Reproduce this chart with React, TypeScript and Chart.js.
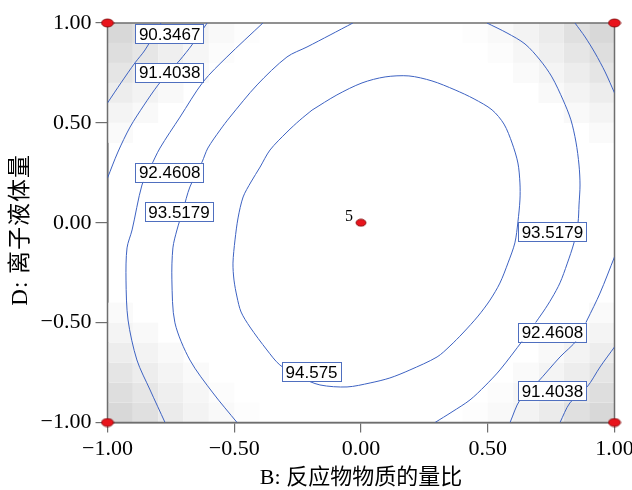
import React, { useEffect, useRef } from 'react';
import { Chart, registerables } from 'chart.js';

Chart.register(...registerables);

// ---------- data ----------
const xTickValues = [-1, -0.5, 0, 0.5, 1];
const xTickLabels = ['\u22121.00', '\u22120.50', '0.00', '0.50', '1.00'];
const yTickValues = [-1, -0.5, 0, 0.5, 1];
const yTickLabels = ['\u22121.00', '\u22120.50', '0.00', '0.50', '1.00'];
const xTitle = 'B: 反应物物质的量比';
const yTitle = 'D: 离子液体量';

// contour polylines, [B, D]
const c90_3467_topLeft = [
  [-1.0, 0.6], [-0.947, 0.7], [-0.892, 0.8], [-0.852, 0.865], [-0.789, 1.0],
];
const c91_4038_topLeft = [
  [-1.0, 0.224], [-0.959, 0.354], [-0.911, 0.479], [-0.856, 0.589], [-0.801, 0.689],
  [-0.757, 0.755], [-0.714, 0.815], [-0.667, 0.89], [-0.607, 1.0],
];
const c91_4038_bottomRight = [
  [1.0, -0.622], [0.943, -0.722], [0.892, -0.822], [0.824, -0.902], [0.785, -1.0],
];
const c92_4608_left = [
  [-0.773, -1.0], [-0.832, -0.837], [-0.884, -0.687], [-0.919, -0.487], [-0.927, -0.287],
  [-0.923, -0.126], [-0.903, -0.036], [-0.864, 0.189], [-0.832, 0.274], [-0.793, 0.374],
  [-0.714, 0.529], [-0.623, 0.705], [-0.529, 0.83], [-0.387, 1.0],
];
const c92_4608_topRight = [
  [0.844, 1.0], [0.884, 0.93], [0.923, 0.85], [0.963, 0.755], [1.0, 0.65],
];
const c92_4608_right = [
  [1.0, -0.171], [0.943, -0.352], [0.892, -0.487], [0.852, -0.587], [0.785, -0.672],
  [0.694, -0.802], [0.627, -0.887], [0.588, -1.0],
];
const c93_5179_left = [
  [-0.489, -1.0], [-0.584, -0.852], [-0.675, -0.687], [-0.734, -0.501], [-0.746, -0.286],
  [-0.742, -0.126], [-0.726, -0.036], [-0.702, 0.064], [-0.675, 0.179], [-0.627, 0.304],
  [-0.604, 0.374], [-0.556, 0.464], [-0.517, 0.529], [-0.41, 0.69], [-0.292, 0.83],
  [-0.213, 0.88], [-0.122, 0.94], [-0.032, 1.0],
];
const c93_5179_right = [
  [0.497, 1.0], [0.576, 0.95], [0.647, 0.895], [0.706, 0.815], [0.753, 0.73],
  [0.797, 0.615], [0.828, 0.515], [0.848, 0.404], [0.86, 0.289], [0.864, 0.189],
  [0.86, 0.089], [0.856, -0.001], [0.84, -0.101], [0.813, -0.206], [0.785, -0.301],
  [0.753, -0.377], [0.718, -0.447], [0.639, -0.587], [0.548, -0.737], [0.489, -0.817],
  [0.43, -0.887], [0.359, -0.947], [0.292, -1.0],
];
const c94_575_loop = [
  [-0.193, 0.564], [-0.095, 0.64], [0.004, 0.7], [0.095, 0.73], [0.189, 0.735],
  [0.28, 0.71], [0.371, 0.665], [0.446, 0.62], [0.517, 0.565], [0.564, 0.494],
  [0.596, 0.399], [0.619, 0.299], [0.627, 0.199], [0.627, 0.114], [0.619, 0.004],
  [0.607, -0.101], [0.58, -0.201], [0.548, -0.302], [0.509, -0.387], [0.462, -0.467],
  [0.402, -0.552], [0.351, -0.617], [0.3, -0.672], [0.193, -0.737], [0.114, -0.777],
  [0.036, -0.802], [-0.055, -0.822], [-0.162, -0.812], [-0.241, -0.772], [-0.32, -0.712],
  [-0.371, -0.637], [-0.438, -0.522], [-0.473, -0.447], [-0.489, -0.372], [-0.501, -0.287],
  [-0.505, -0.202], [-0.497, -0.086], [-0.485, 0.024], [-0.465, 0.129], [-0.434, 0.204],
  [-0.398, 0.279], [-0.359, 0.364], [-0.292, 0.454], [-0.241, 0.514], [-0.193, 0.564],
];
const contourLines = [
  c90_3467_topLeft, c91_4038_topLeft, c91_4038_bottomRight,
  c92_4608_left, c92_4608_topRight, c92_4608_right,
  c93_5179_left, c93_5179_right, c94_575_loop,
];

// contour labels
const labelTexts = ['90.3467', '91.4038', '92.4608', '93.5179', '94.575', '93.5179', '92.4608', '91.4038'];
const labelX = [-0.755, -0.755, -0.755, -0.718, -0.195, 0.755, 0.755, 0.755];
const labelY = [0.945, 0.752, 0.252, 0.054, -0.747, -0.046, -0.547, -0.842];

// design points
const designX = [-1, 1, -1, 1, 0];
const designY = [1, 1, -1, -1, 0];
const centerReplicates = '5';

// grey shading cells at each corner (20x20 grid), grey level by offset from corner
const cellSize = 0.1;
const cornerShade = [
  [216, 224, 235, 243, 249, 253],
  [222, 230, 239, 246, 252],
  [229, 237, 244, 250],
  [237, 243, 249],
  [244, 249],
  [250],
];

// ---------- styles ----------
const SERIF = "'Liberation Serif', 'Times New Roman', serif";
const TITLE_FONT = "'Liberation Serif', 'Noto Sans CJK SC', serif";
const LINE_BLUE = '#3d62c2';
const FRAME = '#6e6e6e';

function makeDot(w: number, h: number) {
  const c = document.createElement('canvas');
  c.width = w + 2;
  c.height = h + 2;
  const g = c.getContext('2d')!;
  g.beginPath();
  g.ellipse(c.width / 2, c.height / 2, w / 2, h / 2, 0, 0, Math.PI * 2);
  g.fillStyle = '#e8141c';
  g.fill();
  g.lineWidth = 0.8;
  g.strokeStyle = '#7a0000';
  g.stroke();
  return c;
}

const shadePlugin = {
  id: 'cornerShade',
  beforeDatasetsDraw(chart: any) {
    const { ctx, scales } = chart;
    const x = scales.x, y = scales.y;
    ctx.save();
    const corners = [[-1, 1], [1, 1], [-1, -1], [1, -1]];
    for (const [sx, sy] of corners) {
      cornerShade.forEach((row, r) =>
        row.forEach((v, c) => {
          const xa = sx * (1 - c * cellSize), xb = sx * (1 - (c + 1) * cellSize);
          const ya = sy * (1 - r * cellSize), yb = sy * (1 - (r + 1) * cellSize);
          const px1 = x.getPixelForValue(Math.min(xa, xb));
          const px2 = x.getPixelForValue(Math.max(xa, xb));
          const py1 = y.getPixelForValue(Math.max(ya, yb));
          const py2 = y.getPixelForValue(Math.min(ya, yb));
          ctx.fillStyle = `rgb(${v},${v},${v})`;
          ctx.fillRect(px1, py1, px2 - px1, py2 - py1);
        })
      );
    }
    const a = chart.chartArea;
    ctx.strokeStyle = FRAME;
    ctx.lineWidth = 1.5;
    ctx.strokeRect(a.left, a.top, a.right - a.left, a.bottom - a.top);
    ctx.restore();
  },
};

const labelPlugin = {
  id: 'contourLabels',
  afterDatasetsDraw(chart: any) {
    const { ctx, scales } = chart;
    const x = scales.x, y = scales.y;
    ctx.save();
    ctx.font = "17px 'Liberation Sans', Arial, sans-serif";
    ctx.textAlign = 'center';
    ctx.textBaseline = 'middle';
    labelTexts.forEach((t, i) => {
      const cx = x.getPixelForValue(labelX[i]);
      const cy = y.getPixelForValue(labelY[i]);
      const w = ctx.measureText(t).width + 7;
      const h = 19;
      ctx.fillStyle = '#ffffff';
      ctx.fillRect(cx - w / 2, cy - h / 2, w, h);
      ctx.strokeStyle = '#4f6fbf';
      ctx.lineWidth = 1;
      ctx.strokeRect(Math.round(cx - w / 2) + 0.5, Math.round(cy - h / 2) + 0.5, Math.round(w), h);
      ctx.fillStyle = '#000000';
      ctx.fillText(t, cx, cy + 1);
    });
    const px = x.getPixelForValue(designX[4]);
    const py = y.getPixelForValue(designY[4]);
    ctx.font = `16px ${SERIF}`;
    ctx.textAlign = 'right';
    ctx.textBaseline = 'alphabetic';
    ctx.fillText(centerReplicates, px - 8, py - 2);
    ctx.restore();
  },
  afterDraw(chart: any) {
    const { ctx, chartArea } = chart;
    ctx.save();
    ctx.translate(20.5, (chartArea.top + chartArea.bottom) / 2 + 7);
    ctx.rotate(-Math.PI / 2);
    ctx.font = `23px ${TITLE_FONT}`;
    (ctx as any).letterSpacing = '1px';
    ctx.textAlign = 'center';
    ctx.textBaseline = 'middle';
    ctx.fillStyle = '#000';
    ctx.fillText(yTitle, 0, 0);
    ctx.restore();
  },
};

export default function App() {
  const ref = useRef<HTMLCanvasElement | null>(null);

  useEffect(() => {
    if (!ref.current) return;
    const bigDot = makeDot(12, 8);
    const smallDot = makeDot(10, 7);

    const datasets: any[] = [
      {
        label: 'design',
        data: designX.map((v, i) => ({ x: v, y: designY[i] })),
        pointStyle: designX.map((_, i) => (i === 4 ? smallDot : bigDot)),
        pointRadius: 5,
        showLine: false,
        clip: false,
      },
      ...contourLines.map((pts, i) => ({
        label: 'c' + i,
        data: pts.map(([a, b]) => ({ x: a, y: b })),
        showLine: true,
        pointRadius: 0,
        borderColor: LINE_BLUE,
        borderWidth: 1,
        tension: 0.3,
        fill: false,
      })),
    ];

    const chart = new Chart(ref.current, {
      type: 'scatter',
      data: { datasets },
      plugins: [shadePlugin, labelPlugin],
      options: {
        animation: false,
        responsive: true,
        maintainAspectRatio: false,
        layout: { padding: { left: 0, top: 23, right: 17.5, bottom: 0 } },
        plugins: { legend: { display: false }, tooltip: { enabled: false } },
        scales: {
          x: {
            type: 'linear',
            min: -1,
            max: 1,
            afterBuildTicks: (s: any) => {
              s.ticks = xTickValues.map((v) => ({ value: v }));
            },
            ticks: {
              autoSkip: false,
              maxRotation: 0,
              padding: 4,
              color: '#000',
              font: { family: SERIF, size: 22 },
              callback: (_v: any, i: number) => xTickLabels[i],
            },
            grid: { drawOnChartArea: false, drawTicks: true, tickLength: 10, color: FRAME, lineWidth: 1.2 },
            border: { display: true, color: FRAME, width: 1.5 },
            title: {
              display: true,
              text: xTitle,
              color: '#000',
              font: { family: TITLE_FONT, size: 22, lineHeight: 1 },
              padding: { top: 0, bottom: 1 },
            },
            afterFit: (s: any) => {
              s.height = 67.5;
              s.paddingLeft = 0;
              s.paddingRight = 0;
            },
          },
          y: {
            type: 'linear',
            min: -1,
            max: 1,
            afterBuildTicks: (s: any) => {
              s.ticks = yTickValues.map((v) => ({ value: v }));
            },
            ticks: {
              autoSkip: false,
              padding: 4,
              color: '#000',
              font: { family: SERIF, size: 22 },
              callback: (_v: any, i: number) => yTickLabels[i],
            },
            grid: { drawOnChartArea: false, drawTicks: true, tickLength: 12, color: FRAME, lineWidth: 1.2 },
            border: { display: true, color: FRAME, width: 1.5 },
            title: { display: false },
            afterFit: (s: any) => {
              s.width = 107.5;
              s.paddingTop = 0;
              s.paddingBottom = 0;
            },
          },
        },
      } as any,
    });
    return () => chart.destroy();
  }, []);

  return (
    <div style={{ position: 'fixed', left: 0, top: 0, width: 632, height: 490, background: '#fff' }}>
      <canvas ref={ref} />
    </div>
  );
}
